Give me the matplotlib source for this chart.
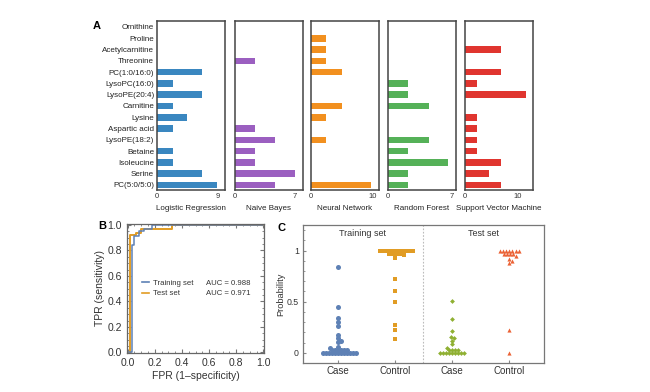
import numpy as np
import matplotlib.pyplot as plt
from matplotlib.lines import Line2D
from matplotlib.ticker import MultipleLocator

plt.rcParams['font.family'] = ['Liberation Sans', 'DejaVu Sans']

# ---- panel A data ----
metabolites = ['Ornithine', 'Proline', 'Acetylcarnitine', 'Threonine', 'PC(1:0/16:0)',
               'LysoPC(16:0)', 'LysoPE(20:4)', 'Carnitine', 'Lysine', 'Aspartic acid',
               'LysoPE(18:2)', 'Betaine', 'Isoleucine', 'Serine', 'PC(5:0/5:0)']
models = ['Logistic Regression', 'Naive Bayes', 'Neural Network', 'Random Forest',
          'Support Vector Machine']
logistic = [0, 0, 0, 0, 6.6, 2.3, 6.6, 2.3, 4.4, 2.3, 0, 2.3, 2.3, 6.6, 8.8]
naive_bayes = [0, 0, 0, 2.3, 0, 0, 0, 0, 0, 2.3, 4.65, 2.3, 2.3, 7.0, 4.65]
neural_net = [0, 2.5, 2.5, 2.5, 5.0, 0, 0, 5.0, 2.5, 0, 2.5, 0, 0, 0, 9.8]
random_forest = [0, 0, 0, 0, 0, 2.25, 2.25, 4.5, 0, 0, 4.5, 2.25, 6.65, 2.25, 2.25]
svm = [0, 0, 6.9, 0, 6.9, 2.35, 11.6, 0, 2.35, 2.35, 2.35, 2.35, 6.9, 4.65, 6.9]
axis_max = [10, 8.0, 11.1, 7.52, 13.0]
tick_max = [9, 7, 10, 7, 10]

# ---- panel B data ----
train_fpr = [0, 0.03, 0.03, 0.05, 0.05, 0.08, 0.08, 0.12, 0.12, 0.18, 0.18, 1.0]
train_tpr = [0, 0, 0.84, 0.84, 0.91, 0.91, 0.95, 0.95, 0.97, 0.97, 1.0, 1.0]
test_fpr = [0, 0.02, 0.02, 0.06, 0.06, 0.10, 0.10, 0.33, 0.33, 1.0]
test_tpr = [0, 0, 0.92, 0.92, 0.94, 0.94, 0.965, 0.965, 1.0, 1.0]

# ---- panel C data ----
train_case = [0.84, 0.45, 0.34, 0.30, 0.26, 0.17, 0.14, 0.12, 0.11, 0.06, 0.05,
              0.03, 0.03, 0.03, 0.03, 0.03, 0.03,
              0.0, 0.0, 0.0, 0.0, 0.0, 0.0, 0.0, 0.0, 0.0, 0.0, 0.0, 0.0]
train_control = [1.0, 1.0, 1.0, 1.0, 1.0, 1.0, 1.0, 1.0, 1.0, 1.0, 1.0, 1.0,
                 0.97, 0.97, 0.97, 0.97, 0.97, 0.96, 0.93,
                 0.72, 0.60, 0.50, 0.27, 0.22, 0.13]
test_case = [0.51, 0.33, 0.21, 0.15, 0.14, 0.12, 0.09, 0.05, 0.03, 0.03, 0.03, 0.03,
             0.0, 0.0, 0.0, 0.0, 0.0, 0.0, 0.0, 0.0, 0.0]
test_control = [1.0, 1.0, 1.0, 1.0, 1.0, 1.0, 1.0, 0.97, 0.97, 0.97, 0.97,
                0.95, 0.92, 0.90, 0.88, 0.22, 0.0]

W, H = 650, 392
fig = plt.figure(figsize=(6.5, 3.92), dpi=100)


def px_axes(l, t, r, b):
    return fig.add_axes([l / W, 1 - b / H, (r - l) / W, (b - t) / H])


# ================= A =================
bar_colors = ['#3a87c0', '#9b5fc0', '#f2901f', '#55b158', '#e0352f']
lefts = [157, 235, 311, 388, 465]
series = [logistic, naive_bayes, neural_net, random_forest, svm]
ypos = np.arange(len(metabolites))
for k in range(5):
    ax = px_axes(lefts[k], 21, lefts[k] + 68, 190)
    ax.barh(ypos, series[k], height=0.58, color=bar_colors[k])
    ax.set_ylim(14.45, -0.53)
    ax.set_xlim(0, axis_max[k])
    ax.set_xticks([0, tick_max[k]])
    ax.tick_params(axis='x', length=0, labelsize=5.5, pad=2.5, labelcolor='#333')
    if k == 0:
        ax.set_yticks(ypos)
        ax.set_yticklabels(metabolites, fontsize=5.8, color='#222')
        ax.tick_params(axis='y', length=0, pad=2)
    else:
        ax.set_yticks([])
    ax.set_xlabel(models[k], fontsize=5.8, labelpad=3, color='#222')
    for s in ax.spines.values():
        s.set_color('#444')
        s.set_linewidth(1.1)
fig.text(93 / W, 1 - 26 / H, 'A', fontsize=8, fontweight='bold', va='center')

# ================= B =================
blue = '#5e81b5'
orange = '#e19c24'
ax = px_axes(127, 224, 264, 353)
ax.plot(test_fpr, test_tpr, color=orange, lw=1.4)
ax.plot(train_fpr, train_tpr, color=blue, lw=1.1)
ax.set_xlim(-0.005, 1.005)
ax.set_ylim(-0.005, 1.008)
ax.set_xticks(np.arange(0, 1.01, 0.2))
ax.set_yticks(np.arange(0, 1.01, 0.2))
ax.xaxis.set_minor_locator(MultipleLocator(0.05))
ax.yaxis.set_minor_locator(MultipleLocator(0.05))
ax.tick_params(which='both', direction='in', top=True, right=True, color='#777',
               labelsize=7.5, labelcolor='#333')
ax.tick_params(which='major', length=3)
ax.tick_params(which='minor', length=1.5)
ax.set_xlabel('FPR (1\u2013specificity)', fontsize=7.5, color='#333', labelpad=2)
ax.set_ylabel('TPR (sensitivity)', fontsize=7.5, color='#333', labelpad=2)
for s in ax.spines.values():
    s.set_color('#666')
    s.set_linewidth(0.9)
blank = Line2D([], [], lw=0)
handles = [Line2D([], [], color=blue, lw=1.2), Line2D([], [], color=orange, lw=1.2), blank, blank]
labels = ['Training set', 'Test set', 'AUC = 0.988', 'AUC = 0.971']
ax.legend(handles, labels, ncol=2, fontsize=5.6, frameon=False, handlelength=0.9,
          handletextpad=0.5, columnspacing=0.2, labelspacing=0.35,
          loc='center left', bbox_to_anchor=(0.06, 0.5), labelcolor='#333')
fig.text(98 / W, 1 - 226 / H, 'B', fontsize=8, fontweight='bold', va='center')


# ================= C =================
def swarm(vals, y_px, x_px, d):
    # simple beeswarm: extremes first, each point at the smallest free offset
    vals = np.asarray(vals, dtype=float)
    order = np.argsort(-np.abs(vals - 0.5), kind='stable')
    placed = []
    offs = np.zeros(len(vals))
    for i in order:
        yp = vals[i] * y_px
        cands = [0.0]
        for xq, yq in placed:
            dy = yp - yq
            if abs(dy) < d:
                dx = np.sqrt(d * d - dy * dy)
                cands += [xq + dx, xq - dx]
        cands.sort(key=abs)
        for c in cands:
            if all((c - xq) ** 2 + (yp - yq) ** 2 >= d * d - 1e-6 for xq, yq in placed):
                break
        placed.append((c, yp))
        offs[i] = c / x_px
    return offs


ax = px_axes(303, 225, 544, 363)
ylo, yhi = -0.1, 1.25
xlo, xhi = 0.39, 4.61
y_px = 138 / (yhi - ylo)
x_px = 241 / (xhi - xlo)
groups = [(1, train_case, blue, 'o', 13, 3.0), (2, train_control, orange, 's', 7, 3.0),
          (3, test_case, '#8fb032', 'D', 6, 3.0), (4, test_control, '#eb6235', '^', 9, 3.2)]
for xc, vals, col, mk, sz, dist in groups:
    offs = swarm(vals, y_px, x_px, dist)
    ax.scatter(xc + offs, vals, s=sz, marker=mk, color=col, linewidths=0, zorder=3)
ax.axvline(2.5, color='#bbb', lw=0.8, ls=(0, (1.5, 1.5)))
ax.set_xlim(xlo, xhi)
ax.set_ylim(ylo, yhi)
ax.set_xticks([1, 2, 3, 4])
ax.set_xticklabels(['Case', 'Control', 'Case', 'Control'])
ax.set_yticks([0, 0.5, 1])
ax.set_yticklabels(['0', '0.5', '1'])
ax.yaxis.set_minor_locator(MultipleLocator(0.1))
ax.tick_params(which='both', direction='in', color='#888', labelcolor='#333')
ax.tick_params(axis='x', labelsize=7, length=2.5, pad=2)
ax.tick_params(axis='y', labelsize=6.3, length=2.5, pad=3)
ax.tick_params(which='minor', length=1.2)
ax.set_ylabel('Probability', fontsize=6.7, color='#333', labelpad=1)
ax.text(1.43, 1.17, 'Training set', fontsize=6.5, color='#333', ha='center', va='center')
ax.text(3.55, 1.17, 'Test set', fontsize=6.5, color='#333', ha='center', va='center')
for s in ax.spines.values():
    s.set_color('#777')
    s.set_linewidth(0.9)
fig.text(277 / W, 1 - 228 / H, 'C', fontsize=8, fontweight='bold', va='center')

fig.savefig('out.png', dpi=100)
